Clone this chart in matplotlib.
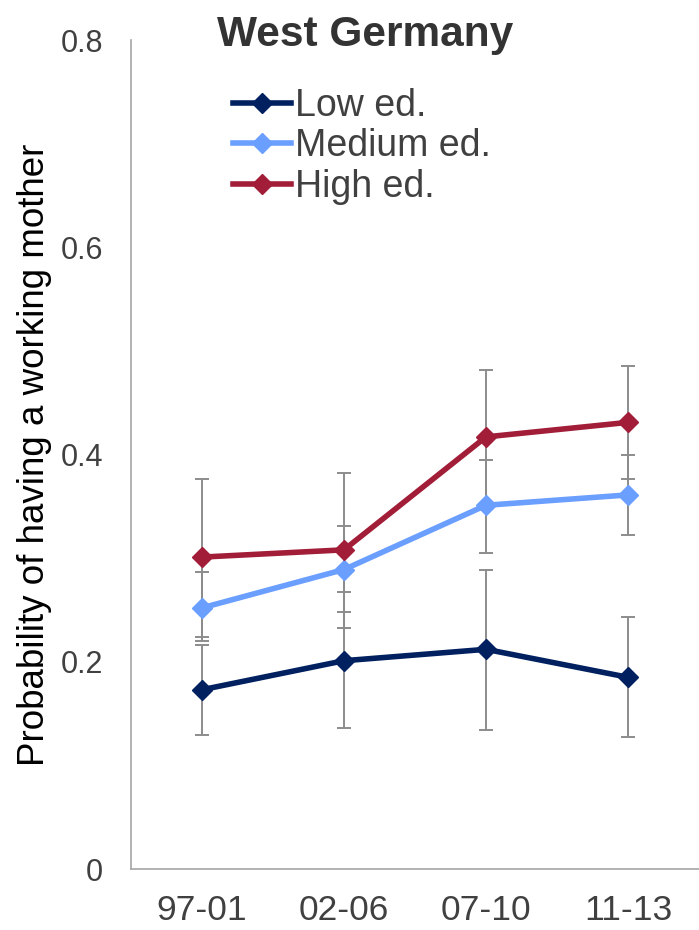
import matplotlib
matplotlib.use("Agg")
import matplotlib.pyplot as plt

plt.rcParams['font.family'] = ['Liberation Sans', 'DejaVu Sans']

# periods on the x axis
periods = ['97-01', '02-06', '07-10', '11-13']

# probability estimates with confidence bounds, by education level
low = [0.173, 0.201, 0.212, 0.185]
low_lo = [0.129, 0.136, 0.134, 0.127]
low_hi = [0.216, 0.267, 0.289, 0.243]

med = [0.252, 0.289, 0.351, 0.361]
med_lo = [0.220, 0.248, 0.305, 0.322]
med_hi = [0.287, 0.331, 0.395, 0.400]

high = [0.301, 0.308, 0.417, 0.431]
high_lo = [0.224, 0.233, 0.353, 0.376]
high_hi = [0.376, 0.382, 0.482, 0.485]

yticks = [0, 0.2, 0.4, 0.6, 0.8]
ytick_labels = ['0', '0.2', '0.4', '0.6', '0.8']

text_col = '#404040'
err_col = '#8c8c8c'

fig = plt.figure(figsize=(6.99, 9.30), dpi=100)
ax = fig.add_axes([131 / 699, 1 - 869 / 930, 1 - 131 / 699, (869 - 40) / 930])

x = list(range(len(periods)))
series = [
    ('Low ed.', low, low_lo, low_hi, '#002060'),
    ('Medium ed.', med, med_lo, med_hi, '#6a9eff'),
    ('High ed.', high, high_lo, high_hi, '#a21d38'),
]

# grey confidence bars sit behind the lines
for label, vals, lo, hi, col in series:
    yerr = [[v - l for v, l in zip(vals, lo)], [h - v for v, h in zip(vals, hi)]]
    ax.errorbar(x, vals, yerr=yerr, fmt='none', ecolor=err_col,
                elinewidth=1.4, capsize=5, capthick=1.4, zorder=1)

for label, vals, lo, hi, col in series:
    ax.plot(x, vals, color=col, lw=4, marker='D', markersize=10,
            markeredgewidth=1, markeredgecolor=col, label=label, zorder=3)

ax.set_xlim(-0.5, 3.5)
ax.set_ylim(0, 0.8)
ax.set_xticks(x)
ax.set_xticklabels(periods)
ax.set_yticks(yticks)
ax.set_yticklabels(ytick_labels)
ax.tick_params(axis='x', length=0, pad=18, labelsize=25.5, labelcolor=text_col)
ax.tick_params(axis='y', length=0, pad=20, labelsize=22, labelcolor=text_col)

for s in ['top', 'right']:
    ax.spines[s].set_visible(False)
for s in ['left', 'bottom']:
    ax.spines[s].set_color('#a6a6a6')
    ax.spines[s].set_linewidth(1.2)

ax.set_ylabel('Probability of having a working mother', fontsize=26.5,
              color='black', labelpad=6)

fig.text(365.5 / 699, 1 - 46 / 930, 'West Germany', fontsize=30.5,
         fontweight='bold', color='#333333', ha='center', va='baseline')

leg = ax.legend(loc='upper left', bbox_to_anchor=(233 / 699, 1 - 88 / 930),
                bbox_transform=fig.transFigure, frameon=False, fontsize=27,
                handlelength=1.55, handletextpad=0.1, labelspacing=0.12,
                borderpad=0, borderaxespad=0)
for t in leg.get_texts():
    t.set_color(text_col)

fig.savefig('out.png', dpi=100)
